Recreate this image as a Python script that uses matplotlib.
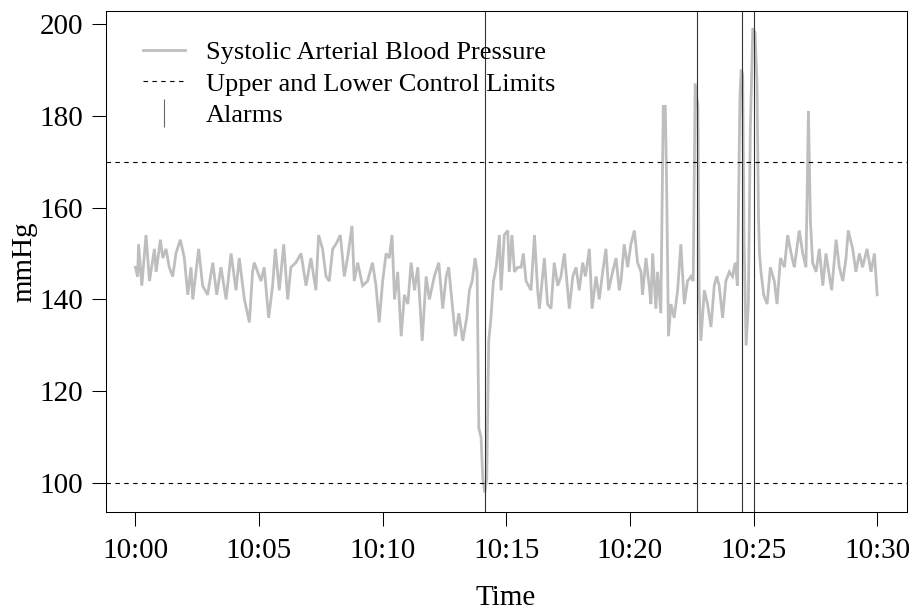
import numpy as np
import matplotlib
matplotlib.use("Agg")
import matplotlib.pyplot as plt
from matplotlib.lines import Line2D

plt.rcParams['font.family'] = ['Liberation Serif', 'DejaVu Serif']

# minutes after 10:00 and systolic pressure (mmHg)
t_min = [0.00, 0.09, 0.13, 0.26, 0.43, 0.57, 0.77, 0.84, 1.01, 1.11, 1.24, 1.37,
         1.51, 1.64, 1.82, 1.98, 2.12, 2.25, 2.32, 2.56, 2.72, 2.92, 3.13, 3.29,
         3.46, 3.67, 3.87, 4.07, 4.20, 4.41, 4.61, 4.74, 4.81, 5.08, 5.21, 5.39,
         5.55, 5.66, 5.82, 6.00, 6.16, 6.29, 6.49, 6.70, 6.90, 7.10, 7.30, 7.41,
         7.57, 7.71, 7.84, 7.98, 8.11, 8.29, 8.45, 8.58, 8.76, 8.85, 8.99, 9.19,
         9.39, 9.59, 9.73, 9.86, 10.00, 10.14, 10.27, 10.38, 10.48, 10.61, 10.75,
         10.88, 11.02, 11.15, 11.29, 11.42, 11.60, 11.76, 11.89, 12.09, 12.27,
         12.43, 12.57, 12.67, 12.83, 12.94, 13.08, 13.24, 13.40, 13.51, 13.62,
         13.74, 13.82, 13.89, 13.98, 14.05, 14.13, 14.21, 14.29, 14.38, 14.48,
         14.59, 14.72, 14.79, 14.92, 15.06, 15.12, 15.23, 15.33, 15.46, 15.60,
         15.69, 15.80, 16.00, 16.14, 16.27, 16.34, 16.54, 16.67, 16.81, 16.94,
         17.08, 17.21, 17.35, 17.55, 17.69, 17.82, 17.95, 18.09, 18.20, 18.36,
         18.47, 18.63, 18.76, 18.90, 19.03, 19.14, 19.30, 19.44, 19.57, 19.64,
         19.77, 19.91, 20.04, 20.18, 20.31, 20.45, 20.51, 20.65, 20.78, 20.85,
         20.92, 21.05, 21.12, 21.25, 21.35, 21.43, 21.48, 21.56, 21.66, 21.79,
         21.93, 22.06, 22.20, 22.33, 22.47, 22.56, 22.64, 22.75, 22.80, 22.87,
         23.01, 23.14, 23.28, 23.41, 23.51, 23.61, 23.75, 23.88, 24.02, 24.15,
         24.26, 24.35, 24.45, 24.50, 24.56, 24.62, 24.70, 24.79, 24.87, 24.97,
         25.06, 25.14, 25.20, 25.24, 25.30, 25.41, 25.55, 25.68, 25.84, 25.95,
         26.09, 26.25, 26.38, 26.52, 26.65, 26.85, 26.99, 27.12, 27.22, 27.30,
         27.39, 27.53, 27.66, 27.80, 27.93, 28.07, 28.16, 28.34, 28.47, 28.61,
         28.74, 28.83, 29.01, 29.14, 29.28, 29.41, 29.59, 29.75, 29.89, 30.00]
sbp = [147, 145, 152, 143, 154, 144, 151, 146, 153, 149, 151, 147,
       145, 150, 153, 149, 141, 147, 140, 151, 143, 141, 148, 141,
       147, 140, 150, 142, 149, 140, 135, 146, 148, 144, 147, 136,
       143, 151, 142, 152, 140, 147, 148, 150, 143, 149, 142, 154,
       151, 145, 144, 151, 152, 154, 145, 149, 156, 144, 148, 143,
       144, 148, 143, 135, 144, 150, 149, 154, 140, 146, 132,
       141, 139, 148, 142, 147, 131, 145, 140, 145, 148,
       138, 145, 147, 138, 132, 137, 131, 136, 142, 144,
       149, 146, 112, 110, 101, 98, 101, 131, 136, 144,
       147, 154, 142, 154, 155, 146, 154, 146, 147, 147,
       150, 144, 142, 154, 142, 138, 149, 139, 138, 148,
       143, 145, 150, 138, 145, 147, 142, 148, 145, 151,
       138, 145, 140, 146, 151, 142, 146, 149, 142, 144,
       152, 147, 152, 155, 148, 146, 141, 149, 143, 139,
       150, 138, 146, 137, 182, 182, 167, 132, 139, 136,
       142, 152, 139, 144, 145, 144, 187, 182, 142, 131,
       142, 139, 134, 143, 145, 143, 136, 144, 146, 145,
       148, 143, 184, 190, 189, 152, 130, 139, 177, 199,
       198, 187, 158, 150, 146, 141, 139, 147, 144, 139,
       149, 147, 154, 150, 147, 155, 150, 147, 181, 157,
       148, 146, 151, 143, 150, 145, 142, 153, 147, 144,
       149, 155, 151, 146, 150, 147, 151, 146, 150, 141]

alarm_min = [14.15, 22.70, 24.53, 25.00]
control_limits = [100, 170]

x_ticks = [0, 5, 10, 15, 20, 25, 30]
x_labels = ["10:00", "10:05", "10:10", "10:15", "10:20", "10:25", "10:30"]
y_ticks = [100, 120, 140, 160, 180, 200]

fig = plt.figure(figsize=(9.16, 6.13), dpi=100)
ax = fig.add_axes([0.1154, 0.165, 0.8746, 0.8175])

ax.plot(t_min, sbp, color="#bebebe", lw=2.0, solid_joinstyle="miter")
for lim in control_limits:
    ax.axhline(lim, color="black", lw=0.8, ls=(0, (4, 4)))
for a in alarm_min:
    ax.axvline(a, color="#333333", lw=0.8)

ax.set_xlim(-1.2, 31.2)
ax.set_ylim(93.8, 202.8)
ax.set_xticks(x_ticks)
ax.set_xticklabels(x_labels)
ax.set_yticks(y_ticks)
ax.tick_params(direction="out", length=10, width=0.75, labelsize=21)
ax.tick_params(axis="x", pad=9)
ax.tick_params(axis="y", pad=6)
for s in ax.spines.values():
    s.set_linewidth(0.75)

fig.text(0.5525, 0.024, "Time", ha="center", va="center", fontsize=21)
fig.text(0.027, 0.573, "mmHg", ha="center", va="center", rotation=90, fontsize=21)

handles = [Line2D([], [], color="#bebebe", lw=2.0),
           Line2D([], [], color="black", lw=0.8, ls=(0, (4, 4))),
           Line2D([], [], color="#666666", ls="none", marker="|", markersize=20,
                  markeredgewidth=0.8)]
labels = ["Systolic Arterial Blood Pressure", "Upper and Lower Control Limits", "Alarms"]
ax.legend(handles, labels, loc="upper left", bbox_to_anchor=(0.046, 0.94),
          frameon=False, fontsize=19, handlelength=1.6, handletextpad=0.8,
          labelspacing=0.3, borderpad=0, borderaxespad=0)

fig.savefig("out.png", dpi=100)
